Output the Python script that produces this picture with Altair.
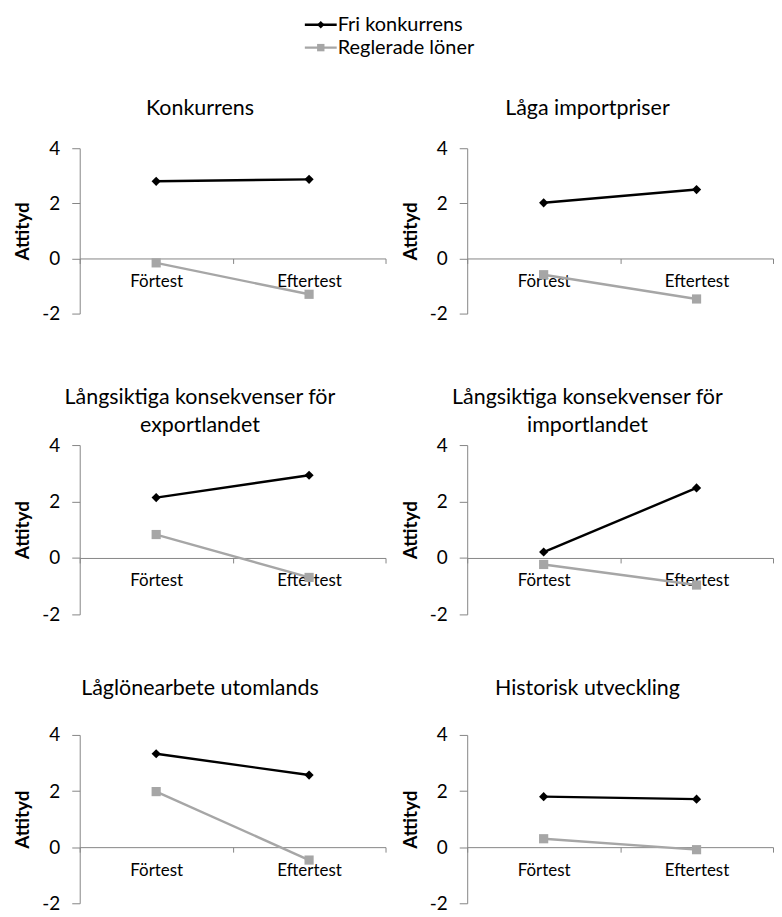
import altair as alt
import pandas as pd

# ---- data ----
titles = [
    ["Konkurrens"],
    ["Låga importpriser"],
    ["Långsiktiga konsekvenser för", "exportlandet"],
    ["Långsiktiga konsekvenser för", "importlandet"],
    ["Låglönearbete utomlands"],
    ["Historisk utveckling"],
]
tests = ["Förtest", "Eftertest"]
series = ["Fri konkurrens", "Reglerade löner"]
fri_fortest = [2.80, 2.02, 2.14, 0.21, 3.33, 1.80]
fri_eftertest = [2.87, 2.50, 2.93, 2.48, 2.57, 1.71]
reg_fortest = [-0.16, -0.59, 0.83, -0.23, 1.98, 0.30]
reg_eftertest = [-1.30, -1.47, -0.69, -0.96, -0.46, -0.09]
y_ticks = [-2, 0, 2, 4]
y_title = "Attityd"

rows = []
for i in range(len(titles)):
    rows.append({"panel": i, "test": tests[0], "series": series[0], "value": fri_fortest[i]})
    rows.append({"panel": i, "test": tests[1], "series": series[0], "value": fri_eftertest[i]})
    rows.append({"panel": i, "test": tests[0], "series": series[1], "value": reg_fortest[i]})
    rows.append({"panel": i, "test": tests[1], "series": series[1], "value": reg_eftertest[i]})
df = pd.DataFrame(rows)

FONT = "Lato"
COLORS = ["#000000", "#a6a6a6"]
SHAPES = ["diamond", "square"]
AXIS_GRAY = "#868686"
PW = 307

color_scale = alt.Scale(domain=series, range=COLORS)
shape_scale = alt.Scale(domain=series, range=SHAPES)


def panel(i, h, title_offset):
    d = df[df.panel == i]
    base = alt.Chart(d).encode(
        x=alt.X(
            "test:N",
            sort=tests,
            bandPosition=0.5,
            scale=alt.Scale(type="band", domain=tests, paddingInner=0, paddingOuter=0),
            axis=alt.Axis(
                title=None, orient="bottom", offset=-h / 3.0, tickBand="extent",
                labelAngle=0, labelFontSize=17, labelFont=FONT, labelColor="#000000",
                labelPadding=10, tickSize=5, tickColor=AXIS_GRAY, domainColor=AXIS_GRAY,
                grid=False,
            ),
        ),
        y=alt.Y(
            "value:Q",
            scale=alt.Scale(domain=[-2, 4], nice=False, zero=False),
            axis=alt.Axis(
                values=y_ticks, title=y_title, grid=False, labelFontSize=19, labelFont=FONT,
                labelExpr="replace(datum.label, '\u2212', '-')",
                labelColor="#000000", labelPadding=12, tickSize=8, tickColor=AXIS_GRAY,
                domainColor=AXIS_GRAY, titleFont=FONT, titleFontSize=19, titleFontWeight="bold",
                titleColor="#000000", titlePadding=9,
            ),
        ),
        color=alt.Color("series:N", scale=color_scale, legend=None),
    )
    line = base.mark_line(strokeWidth=2.4)
    pts = base.mark_point(filled=True, opacity=1, size=85).encode(
        shape=alt.Shape("series:N", scale=shape_scale, legend=None)
    )
    return alt.layer(line, pts).properties(
        width=PW,
        height=h,
        title=alt.Title(
            titles[i], font=FONT, fontSize=21.5, fontWeight="normal", color="#000000",
            anchor="middle", frame="bounds", offset=title_offset, lineHeight=28,
        ),
    )


# ---- legend (top) ----
leg_df = pd.DataFrame({"series": series})
LX = 226
ly = alt.Y("series:N", scale=alt.Scale(type="point", domain=series, padding=0.435), axis=None)
lc = alt.Color("series:N", scale=color_scale, legend=None)
leg_base = alt.Chart(leg_df)
leg_rule = leg_base.mark_rule(strokeWidth=2.4).encode(
    x=alt.value(LX), x2=alt.value(LX + 32), y=ly, color=lc
)
leg_pts = leg_base.mark_point(filled=True, opacity=1, size=55).encode(
    x=alt.value(LX + 16), y=ly, color=lc,
    shape=alt.Shape("series:N", scale=shape_scale, legend=None),
)
leg_txt = leg_base.mark_text(align="left", baseline="middle", font=FONT, fontSize=20, color="#000000").encode(
    x=alt.value(LX + 33), y=ly, text="series:N"
)
legend = alt.layer(leg_rule, leg_pts, leg_txt).properties(width=560, height=43)

HS = 14
row1 = alt.hconcat(panel(0, 166, 20), panel(1, 166, 20), spacing=HS)
row2 = alt.hconcat(panel(2, 170, 0), panel(3, 170, 0), spacing=HS)
row3 = alt.hconcat(panel(4, 169, 27), panel(5, 169, 27), spacing=HS)

inner2 = alt.vconcat(row2, row3, spacing=53)
inner = alt.vconcat(row1, inner2, spacing=63)
chart = alt.vconcat(legend, inner, spacing=40).properties(
    padding={"left": 5, "top": 5, "right": 0, "bottom": 0}
).configure_view(stroke=None)

chart.save("out.html", embed_options={"renderer": "svg", "actions": False})
